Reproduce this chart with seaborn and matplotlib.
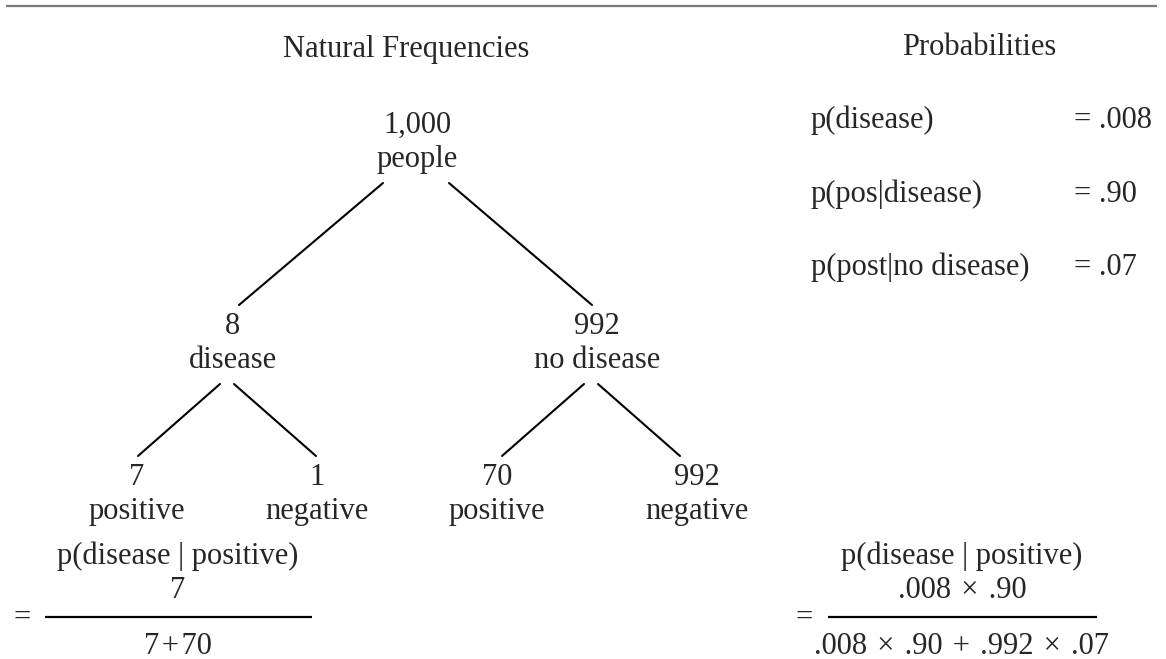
import pandas as pd
import seaborn as sns
import matplotlib.pyplot as plt

# tree of natural frequencies
counts = ["1,000", "8", "992", "7", "1", "70", "992"]
labels = ["people", "disease", "no disease", "positive", "negative", "positive", "negative"]
parents = [None, 0, 0, 1, 1, 2, 2]
levels = [0, 1, 1, 2, 2, 2, 2]

# probabilities column
prob_names = ["p(disease)", "p(pos|disease)", "p(post|no disease)"]
prob_values = [".008", ".90", ".07"]

# bayes formulas
H = "\u200a"
cond_label = "p(disease | positive)"
freq_num, freq_den = "7", "7" + H + "+" + H + "70"
prob_num = ".008 " + H + "\u00d7" + H + " .90"
prob_den = (".008 " + H + "\u00d7" + H + " .90 " + H + "+" + H + " .992 "
            + H + "\u00d7" + H + " .07")

# layout (pixels, origin top-left)
node_x = [417, 233, 597, 137, 317, 497, 697]
level_base = [133, 334, 485]
label_gap = 34
edge_dx0 = [None, -34, 32, -13, 1, -13, 1]
edge_dx1 = [None, 6, -5, 1, -1, 5, -17]

sns.set_theme(style="white")
plt.rcParams['font.family'] = ['Liberation Serif', 'DejaVu Serif']
FS = 22

fig = plt.figure(figsize=(11.66, 6.59), dpi=100)
ax = fig.add_axes([0, 0, 1, 1])

# rule at the top
ax.plot([6, 1157], [6, 6], color='#7a7a7a', lw=1.6, solid_capstyle='butt')

ax.text(406, 57, "Natural Frequencies", ha='center', va='baseline', fontsize=FS)
ax.text(979, 55, "Probabilities", ha='center', va='baseline', fontsize=FS)

# nodes
for i in range(len(counts)):
    b = level_base[levels[i]]
    ax.text(node_x[i], b, counts[i], ha='center', va='baseline', fontsize=FS)
    ax.text(node_x[i], b + label_gap, labels[i], ha='center', va='baseline', fontsize=FS)

# edges
rows = []
for i, p in enumerate(parents):
    if p is None:
        continue
    y0 = level_base[levels[p]] + label_gap + 16
    y1 = level_base[levels[i]] - 29
    rows.append({'edge': i, 'x': node_x[p] + edge_dx0[i], 'y': y0})
    rows.append({'edge': i, 'x': node_x[i] + edge_dx1[i], 'y': y1})
edges = pd.DataFrame(rows)
sns.lineplot(data=edges, x='x', y='y', units='edge', estimator=None, sort=False,
             color='black', lw=1.5, ax=ax, legend=False)

# probability list
prob_base = [128, 202, 275]
for name, val, b in zip(prob_names, prob_values, prob_base):
    ax.text(811, b, name, ha='left', va='baseline', fontsize=FS)
    ax.text(1074, b, "= " + val, ha='left', va='baseline', fontsize=FS)

# formulas
for cx, eq_x, x0, x1, num, den in [(178, 22, 45, 312, freq_num, freq_den),
                                   (962, 804, 828, 1097, prob_num, prob_den)]:
    ax.text(cx, 564, cond_label, ha='center', va='baseline', fontsize=FS)
    ax.text(cx, 598, num, ha='center', va='baseline', fontsize=FS)
    ax.plot([x0, x1], [617, 617], color='black', lw=1.6, solid_capstyle='butt')
    ax.text(eq_x, 626, "=", ha='center', va='baseline', fontsize=FS)
    ax.text(cx, 654, den, ha='center', va='baseline', fontsize=FS)

ax.set_xlim(0, 1166)
ax.set_ylim(659, 0)
ax.axis('off')

fig.savefig('out.png', dpi=100)
